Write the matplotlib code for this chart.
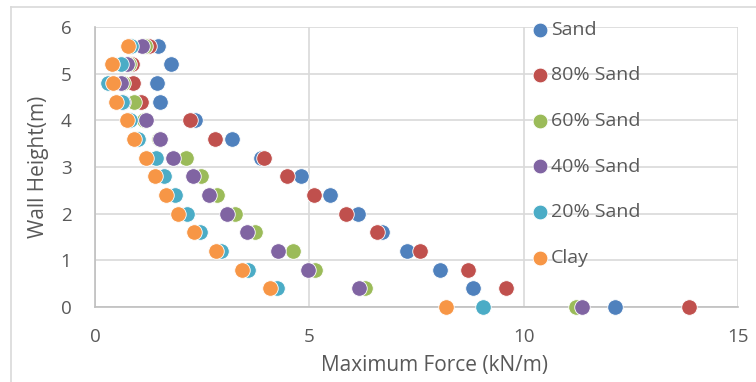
import matplotlib
matplotlib.use("Agg")
import matplotlib.pyplot as plt
from matplotlib.lines import Line2D

heights = [0, 0.4, 0.8, 1.2, 1.6, 2.0, 2.4, 2.8, 3.2, 3.6, 4.0, 4.4, 4.8, 5.2, 5.6]
series_names = ["Sand", "80% Sand", "60% Sand", "40% Sand", "20% Sand", "Clay"]
sand     = [12.14, 8.81, 8.04, 7.27, 6.69, 6.13, 5.48, 4.81, 3.87, 3.19, 2.33, 1.52, 1.44, 1.77, 1.46]
sand80   = [13.85, 9.58, 8.69, 7.58, 6.59, 5.85, 5.11, 4.49, 3.94, 2.80, 2.22, 1.07, 0.88, 0.86, 1.25]
sand60   = [11.22, 6.30, 5.13, 4.61, 3.73, 3.27, 2.84, 2.47, 2.12, 1.50, 1.15, 0.92, 0.65, 0.80, 1.17]
sand40   = [11.36, 6.15, 4.98, 4.28, 3.55, 3.09, 2.66, 2.29, 1.83, 1.52, 1.19, 0.66, 0.60, 0.75, 1.10]
sand20   = [9.04, 4.25, 3.58, 2.93, 2.45, 2.14, 1.87, 1.61, 1.42, 1.01, 0.82, 0.62, 0.31, 0.60, 0.85]
clay     = [8.18, 4.08, 3.42, 2.82, 2.31, 1.93, 1.65, 1.40, 1.19, 0.92, 0.74, 0.49, 0.41, 0.39, 0.78]
x_ticks = [0, 5, 10, 15]
y_ticks = [0, 1, 2, 3, 4, 5, 6]

colors = ["#4F81BD", "#C0504D", "#9BBB59", "#8064A2", "#4BACC6", "#F79646"]
data = [sand, sand80, sand60, sand40, sand20, clay]

plt.rcParams['font.family'] = ['Open Sans', 'DejaVu Sans']
W, H = 756, 382
fig = plt.figure(figsize=(W/100, H/100), dpi=100)
ax = fig.add_axes([95/W, 1-307/H, (738-95)/W, (307-27)/H])

for name, vals, c in zip(series_names, data, colors):
    ax.scatter(vals, heights, s=125, color=c, edgecolors='white', linewidths=0.6,
               label=name, zorder=3, clip_on=False)

ax.set_xlim(0, 15)
ax.set_ylim(0, 6)
ax.set_xticks(x_ticks)
ax.set_yticks(y_ticks)
ax.grid(True, color='#D9D9D9', linewidth=1.2, zorder=0)
ax.set_axisbelow(True)
for s in ['top', 'right']:
    ax.spines[s].set_visible(False)
for s in ['left', 'bottom']:
    ax.spines[s].set_color('#BFBFBF')
    ax.spines[s].set_linewidth(1.2)
ax.tick_params(axis='both', length=0, labelsize=13.5, labelcolor='#595959')
ax.tick_params(axis='x', pad=15)
ax.tick_params(axis='y', pad=17)
ax.set_xlabel("Maximum Force (kN/m)", fontsize=15, color='#595959', va='center')
ax.set_ylabel("Wall Height(m)", fontsize=15, color='#595959', va='center')
ax.xaxis.set_label_coords((434-95)/643, (307-366)/280)
ax.yaxis.set_label_coords((39-95)/643, 0.5)

leg = ax.legend(loc='upper left', bbox_to_anchor=(521/W, 1-11/H),
                bbox_transform=fig.transFigure, frameon=False, fontsize=14,
                labelcolor='#595959', handletextpad=0.05, labelspacing=1.42,
                markerscale=0.95, borderpad=0, handlelength=1.0)

# outer chart border (top and left edges visible)
fig.add_artist(Line2D([11/W, 1], [1-7/H, 1-7/H], transform=fig.transFigure,
                      color='#D9D9D9', linewidth=1.2))
fig.add_artist(Line2D([11/W, 11/W], [0, 1-7/H], transform=fig.transFigure,
                      color='#D9D9D9', linewidth=1.2))
fig.savefig("out.png", dpi=100)
